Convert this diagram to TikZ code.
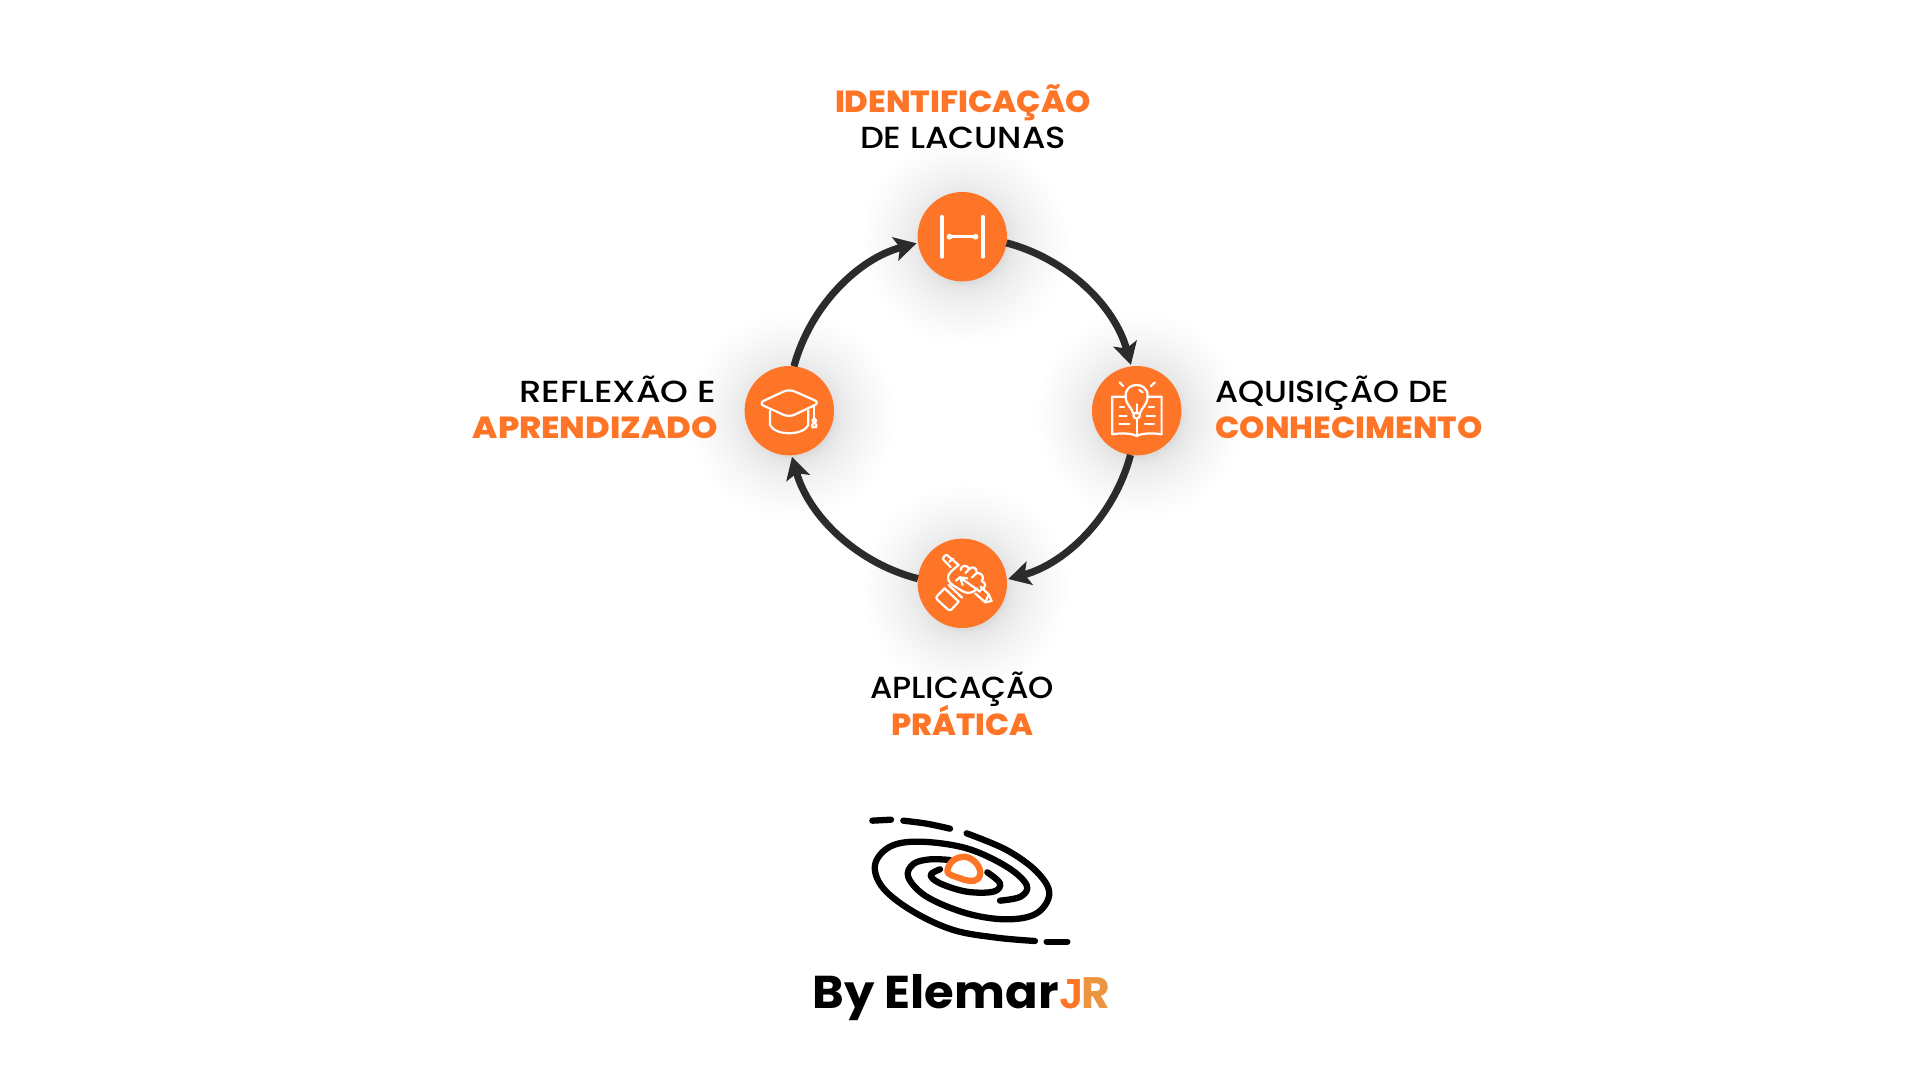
\documentclass[tikz,border=0pt]{standalone}
\usepackage{graphicx}
\usepackage{fontspec}
\setmainfont{Poppins}
\newfontfamily\medf{Poppins Medium}
\newfontfamily\boldf{Poppins ExtraBold}
\newfontfamily\semif[FakeStretch=1.045]{Poppins Bold}
\newfontfamily\semir{Poppins Bold}
\newfontfamily\monof{Liberation Mono Bold}
\usetikzlibrary{arrows.meta}
\definecolor{orng}{HTML}{FF7527}
\definecolor{orng2}{HTML}{EC9440}
\definecolor{ringc}{HTML}{2B2B2B}
\newcommand{\fitw}[2]{\resizebox{#1pt}{\height}{#2}}
\tikzset{
  disc/.style={circle,fill=orng,minimum size=89.4pt,inner sep=0pt,outer sep=0pt},
  arcline/.style={draw=ringc,line width=7.2pt,-{Stealth[length=22pt,width=24pt,inset=5pt]},shorten >=1.5pt},
  iconline/.style={draw=white,line width=2.2pt,line cap=round,line join=round},
  iconthick/.style={draw=white,line width=3.2pt,line cap=round},
  logoline/.style={draw=black,line width=6.3pt,line cap=round,line join=round},
  logoorange/.style={draw=orng,line width=6.3pt,line join=round},
  blk/.style={inner sep=0pt,outer sep=0pt,anchor=base west,font=\medf\fontsize{30.5}{30.5}\selectfont,text=black},
  org/.style={inner sep=0pt,outer sep=0pt,anchor=base west,font=\boldf\fontsize{30.5}{30.5}\selectfont,text=orng},
}
\begin{document}
\begin{tikzpicture}[x=1pt,y=-1pt]
\useasboundingbox (0,0) rectangle (1920,1080);
\fill[white] (0,0) rectangle (1920,1080);
% soft shadows
\foreach \cx/\cy in {962.3/236.7,1136.7/410.7,789.3/410.7,962.3/583.3}{
  \foreach \i in {0,...,34}{
    \fill[black,opacity=.0055] (\cx+3,\cy+5) circle[radius=42+62*(\i/34)*(\i/34)];
  }
}
% discs
\node[disc] (ntop) at (962.3,236.7) {};
\node[disc] (nright) at (1136.7,410.7) {};
\node[disc] (nleft) at (789.3,410.7) {};
\node[disc] (nbot) at (962.3,583.3) {};
% arcs
\draw[arcline] (ntop.-8) to[bend left=30,looseness=.91] (nright.97);
\draw[arcline] (nright.-98) to[bend left=30,looseness=.91] (nbot.5.5);
\draw[arcline] (nbot.174) to[bend left=30,looseness=.91] (nleft.-87);
\draw[arcline] (nleft.84) to[bend left=30,looseness=.91] (ntop.188);
% labels
\node[org] (l1a) at (835,112) {\fitw{256}{IDENTIFICAÇÃO}};
\node[blk] (l1b) at (860,148.7) {\fitw{206}{DE LACUNAS}};
\node[blk] (l2a) at (1215,402) {\fitw{234}{AQUISIÇÃO DE}};
\node[org] (l2b) at (1215.5,438.8) {\fitw{267}{CONHECIMENTO}};
\node[blk] (l3a) at (870,698.6) {\fitw{184}{APLICAÇÃO}};
\node[org] (l3b) at (891.5,735.3) {\fitw{142}{PRÁTICA}};
\node[blk] (l4a) at (519.5,402) {\fitw{197}{REFLEXÃO E}};
\node[org] (l4b) at (472.7,438.8) {\fitw{245}{APRENDIZADO}};
% icon top
\draw[iconthick] (942,216.5)--(942,257) (983,216.5)--(983,257);
\draw[white,line width=2.6pt] (948,236.7)--(977,236.7);
\fill[white] (949.5,236.7) circle[radius=2.9] (975.5,236.7) circle[radius=2.9];
% icon right: book & bulb (zoom coordinates)
\begin{scope}[shift={(720,170)},x=.3333pt,y=-.3333pt]
\draw[iconline] (1218,680)--(1177,680)--(1177,793) .. controls (1205,788) and (1235,790) .. (1250,798) .. controls (1265,790) and (1295,788) .. (1325,793)--(1325,680)--(1283,680);
\draw[iconline] (1250,748)--(1250,798);
\draw[iconline] (1240,730) .. controls (1235,712) and (1217,705) .. (1217,678) .. controls (1217,655) and (1233,645) .. (1250,645) .. controls (1267,645) and (1283,655) .. (1283,678) .. controls (1283,705) and (1265,712) .. (1260,730) -- cycle;
\draw[iconline] (1240,730)--(1242,742) .. controls (1246,747) and (1254,747) .. (1258,742)--(1260,730);
\draw[iconline] (1250,703)--(1250,730);
\draw[iconline] (1258,660)--(1268,667);
\draw[iconline] (1199,637)--(1209,648) (1305,637)--(1293,648);
\draw[iconline] (1200,712)--(1212,712) (1198,738)--(1220,738) (1198,762)--(1228,762);
\draw[iconline] (1287,712)--(1302,712) (1280,738)--(1305,738) (1275,762)--(1302,762);
% icon left: cap
\draw[iconline,rounded corners=6pt] (115,700)--(207,657)--(300,698)--(207,742)--cycle;
\draw[iconline] (150,722)--(150,765) .. controls (165,798) and (250,798) .. (265,765)--(265,722);
\draw[iconline] (283,708)--(283,745);
\draw[iconline] (283,745)--(277,752)--(289,764)--(289,772)--(277,772)--(277,764)--(289,752)--cycle;
\end{scope}
% icon bottom: hand & pen
\begin{scope}[shift={(930,545)},x=.3333pt,y=-.3333pt]
\draw[iconline] (62,66)--(41,45) .. controls (36,38) and (45,28) .. (52,31)--(86,60);
\draw[iconline] (58,50)--(70,41);
% fist
\draw[iconline] (86,60) .. controls (72,72) and (52,85) .. (54,98) .. controls (55,112) and (65,118) .. (75,125)--(100,140) .. controls (115,148) and (132,142) .. (142,130);
% knuckles
\draw[iconline] (92,75) .. controls (92,60) and (112,58) .. (118,72) .. controls (126,62) and (142,68) .. (140,84) .. controls (155,82) and (165,98) .. (155,108) .. controls (168,112) and (170,128) .. (152,135);
\draw[iconline] (118,72)--(106,84) (140,84)--(125,98);
% thumb + pen
\draw[iconline] (98,120)--(90,97)--(150,140);
\draw[iconline] (90,97)--(112,100) (78,107)--(90,97);
\draw[iconline] (135,145)--(166,172)--(185,168)--(176,148)--(152,125);
\draw[iconline] (166,172)--(176,148);
% cuff
\draw[iconline] (44,130)--(22,152) .. controls (18,156) and (18,160) .. (22,164)--(52,192) .. controls (56,196) and (60,196) .. (64,194)--(86,170);
\draw[iconline] (44,130)--(86,170);
\draw[iconline] (56,120)--(96,158);
\end{scope}
% logo
\begin{scope}[shift={(780,790)},x=.3333pt,y=-.3333pt]
\draw[logoline] (277,92) -- (333,89);
\draw[logoline] plot[smooth,tension=.6] coordinates {(370,92) (440,101) (510,116)};
\draw[logoline] plot[smooth,tension=.6] coordinates {(765,453) (650,443) (520,420) (400,365) (310,295) (285,225) (330,170) (420,155) (560,175) (680,230) (740,285) (722,320) (660,332)};
\draw[logoline] plot[smooth,tension=.6] coordinates {(560,130) (680,180) (770,245) (808,310) (770,370) (680,388) (560,370) (440,320) (385,262) (400,222) (450,208) (510,210)};
\draw[logoline] plot[smooth,tension=.6] coordinates {(622,247) (660,280) (640,305) (560,305) (480,280) (452,255) (480,238)};
\draw[logoline] (800,455) -- (862,455);
\draw[logoorange] (503,238) .. controls (510,210) and (535,200) .. (555,200) .. controls (585,205) and (605,235) .. (600,255) .. controls (595,275) and (575,275) .. (555,270) -- (520,258) .. controls (505,252) and (500,248) .. (503,238) -- cycle;
\end{scope}
\node[inner sep=0pt,outer sep=0pt,anchor=base west,font=\semif\fontsize{46}{46}\selectfont] (by) at (812.5,1008.3) {By Elemar};
\node[inner sep=0pt,outer sep=0pt,anchor=base west,font=\monof\fontsize{44}{44}\selectfont,text=orng] (jj) at (1058,1008.3) {J};
\node[inner sep=0pt,outer sep=0pt,anchor=base west,font=\semir\fontsize{44}{44}\selectfont,text=orng2] (rr) at (1081,1008.3) {R};
\end{tikzpicture}
\end{document}
